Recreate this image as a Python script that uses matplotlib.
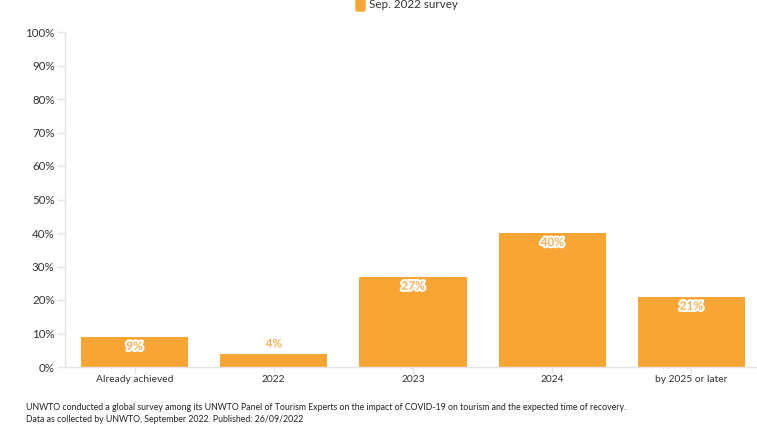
import matplotlib
matplotlib.use('Agg')
import matplotlib.pyplot as plt
import matplotlib.patheffects as pe
import numpy as np

plt.rcParams['font.family'] = ['Lato', 'DejaVu Sans']

categories = ['Already achieved', '2022', '2023', '2024', 'by 2025 or later']
values = [9, 4, 27, 40, 21]
series_name = 'Sep. 2022 survey'
note_lines = [
    'UNWTO conducted a global survey among its UNWTO Panel of Tourism Experts on the impact of COVID-19 on tourism and the expected time of recovery.',
    'Data as collected by UNWTO, September 2022. Published: 26/09/2022',
]

orange = '#f9a533'
grid_c = '#e3e3e8'

fig = plt.figure(figsize=(7.57, 4.32), dpi=100)
# axis runs slightly past the right edge of the picture, as in the reference
ax = fig.add_axes([65 / 757, (432 - 367) / 432, (761 - 65) / 757, (367 - 32) / 432])

x = np.arange(len(categories))
bars = ax.bar(x, values, width=0.77, color=orange, label=series_name, zorder=2)

ax.set_xlim(-0.5, len(categories) - 0.5)
ax.set_ylim(0, 100)
ax.set_yticks(np.arange(0, 101, 10))
ax.set_yticklabels(['{}%'.format(v) for v in range(0, 101, 10)])
ax.set_xticks(x)
ax.set_xticklabels(categories)

for s in ['top', 'right']:
    ax.spines[s].set_visible(False)
for s in ['left', 'bottom']:
    ax.spines[s].set_color(grid_c)
    ax.spines[s].set_linewidth(1)
ax.tick_params(axis='both', colors=grid_c, labelcolor='#333333', width=1)
ax.tick_params(axis='x', labelsize=7.4, pad=1.5, length=4)
ax.tick_params(axis='y', labelsize=8.3, pad=1.5, length=6)

halo = [pe.withStroke(linewidth=3, foreground='white')]
for xi, v in zip(x, values):
    if v >= 8:
        ax.annotate('{}%'.format(v), (xi, v), textcoords='offset points', xytext=(0, -3),
                    ha='center', va='top', fontsize=8.5, fontweight='bold', color='#f7b056',
                    path_effects=halo, zorder=3)
    else:
        ax.annotate('{}%'.format(v), (xi, v), textcoords='offset points', xytext=(0, 3),
                    ha='center', va='bottom', fontsize=8.5, fontweight='bold', color='#f7b056',
                    path_effects=halo, zorder=3)

# legend at top
fig.patches.append(matplotlib.patches.FancyBboxPatch((356 / 757, (432 - 11) / 432), 9 / 757, 11 / 432,
                   boxstyle='round,pad=0,rounding_size=0.003', transform=fig.transFigure,
                   color=orange, figure=fig))
fig.text(369 / 757, (432 - 5) / 432, series_name, fontsize=8.4, color='#333333', va='center', ha='left')

fig.text(26 / 757, (432 - 407) / 432, note_lines[0], fontsize=6.3, color='#222222', va='center')
fig.text(26 / 757, (432 - 420) / 432, note_lines[1], fontsize=6.3, color='#222222', va='center')

fig.savefig('out.png', dpi=100)
